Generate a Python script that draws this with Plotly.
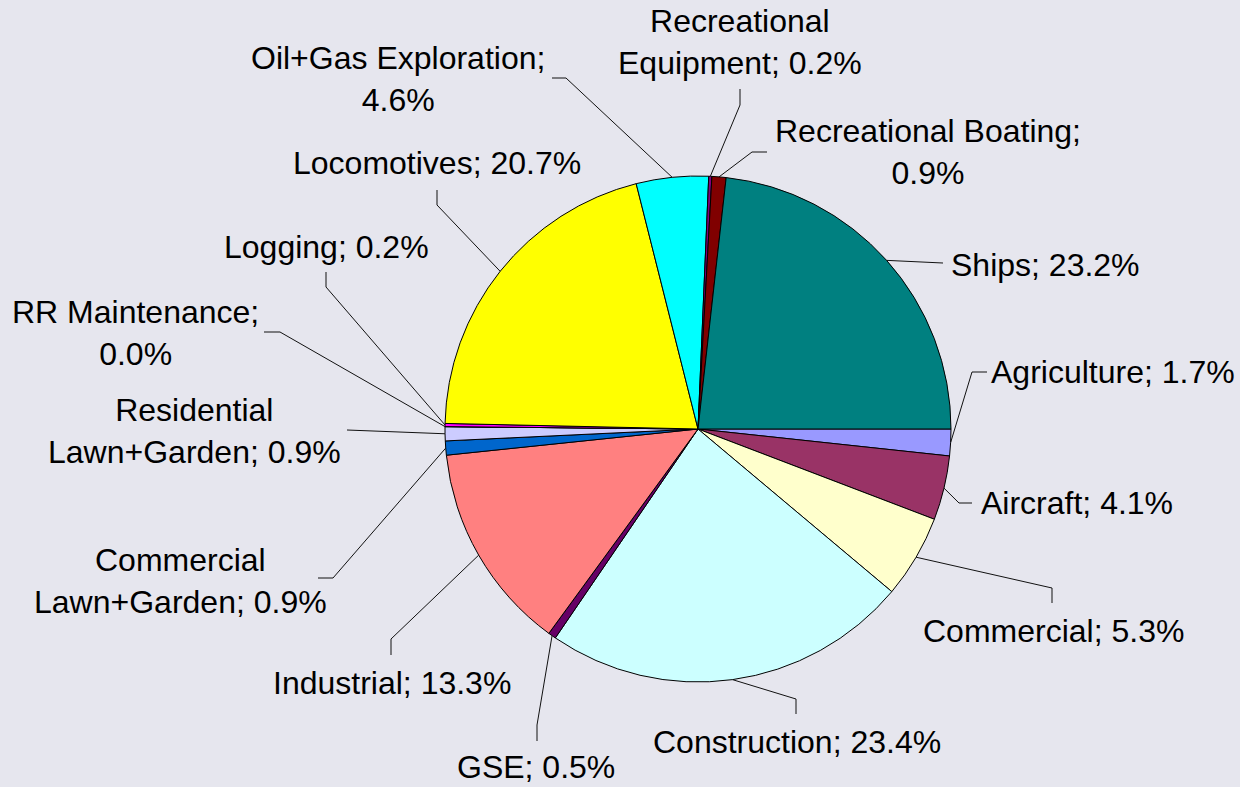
import math
import plotly.graph_objects as go

# ---- data ----
categories = ["Agriculture", "Aircraft", "Commercial", "Construction", "GSE",
              "Industrial", "Commercial Lawn+Garden", "Residential Lawn+Garden",
              "RR Maintenance", "Logging", "Locomotives", "Oil+Gas Exploration",
              "Recreational Equipment", "Recreational Boating", "Ships"]
shares = [1.7, 4.1, 5.3, 23.4, 0.5, 13.3, 0.9, 0.9, 0.0, 0.2, 20.7, 4.6, 0.2, 0.9, 23.2]
label_texts = ["Agriculture; 1.7%", "Aircraft; 4.1%", "Commercial; 5.3%",
               "Construction; 23.4%", "GSE; 0.5%", "Industrial; 13.3%",
               "Commercial<br>Lawn+Garden; 0.9%", "Residential<br>Lawn+Garden; 0.9%",
               "RR Maintenance;<br>0.0%", "Logging; 0.2%", "Locomotives; 20.7%",
               "Oil+Gas Exploration;<br>4.6%", "Recreational<br>Equipment; 0.2%",
               "Recreational Boating;<br>0.9%", "Ships; 23.2%"]
colors = ["#9999FF", "#993366", "#FFFFCC", "#CCFFFF", "#660066", "#FF8080",
          "#0066CC", "#CCCCFF", "#000080", "#FF00FF", "#FFFF00", "#00FFFF",
          "#800080", "#800000", "#008080"]

# ---- layout (pixel positions of labels and leader-line elbows/ends) ----
W, H = 1240, 787
CX, CY, R = 698, 429, 253
ROTATION = 90
label_pos = [(1113, 372), (1077, 503), (1053, 631), (797, 742), (536, 767),
             (392, 683), (180, 581), (194, 431), (135, 333), (326, 247),
             (437, 163), (398, 79), (740, 42), (928, 152), (1045, 265)]
elbows = [(972, 372), (959, 503), (1052, 588), (796, 699), (537, 725),
          (391, 639), (333, 578), (347, 430), (280, 332), (326, 287),
          (437, 205), (566, 78), (740, 105), (752, 152), (943, 263)]
ends = [(987, 372), (972, 503), (1052, 603), (796, 714), (537, 741),
        (391, 655), (318, 578), (347, 430), (264, 332), (326, 272),
        (437, 190), (552, 78), (740, 89), (767, 152), (943, 263)]


def px(x):
    return x / W


def py(y):
    return 1 - y / H


fig = go.Figure(go.Pie(
    labels=categories, values=shares, sort=False, direction="clockwise",
    rotation=ROTATION, textinfo="none", hoverinfo="label+percent",
    marker=dict(colors=colors, line=dict(color="black", width=1)),
    domain=dict(x=[px(CX - R), px(CX + R)], y=[py(CY + R), py(CY - R)]),
    showlegend=False,
))

total = sum(shares)
cum = 0.0
shapes = []
annotations = []
for i, v in enumerate(shares):
    mid = math.radians(ROTATION + (cum + v / 2) / total * 360)
    cum += v
    sx = CX + R * math.sin(mid)
    sy = CY - R * math.cos(mid)
    ex, ey = elbows[i]
    tx, ty = ends[i]
    path = f"M {px(sx)},{py(sy)} L {px(ex)},{py(ey)} L {px(tx)},{py(ty)}"
    shapes.append(dict(type="path", xref="paper", yref="paper", path=path,
                       line=dict(color="#111111", width=1)))
    lx, ly = label_pos[i]
    annotations.append(dict(x=px(lx), y=py(ly), xref="paper", yref="paper",
                            text=label_texts[i], showarrow=False,
                            xanchor="center", yanchor="middle", align="center",
                            font=dict(family="Liberation Sans, Arial", size=32,
                                      color="black")))

fig.update_layout(
    width=W, height=H, margin=dict(l=0, r=0, t=0, b=0),
    paper_bgcolor="#E6E6EE", plot_bgcolor="#E6E6EE",
    shapes=shapes, annotations=annotations,
)

fig.write_html("out.html", config={"displayModeBar": False},
               post_script="document.body.style.margin='0';document.body.style.overflow='hidden';")
